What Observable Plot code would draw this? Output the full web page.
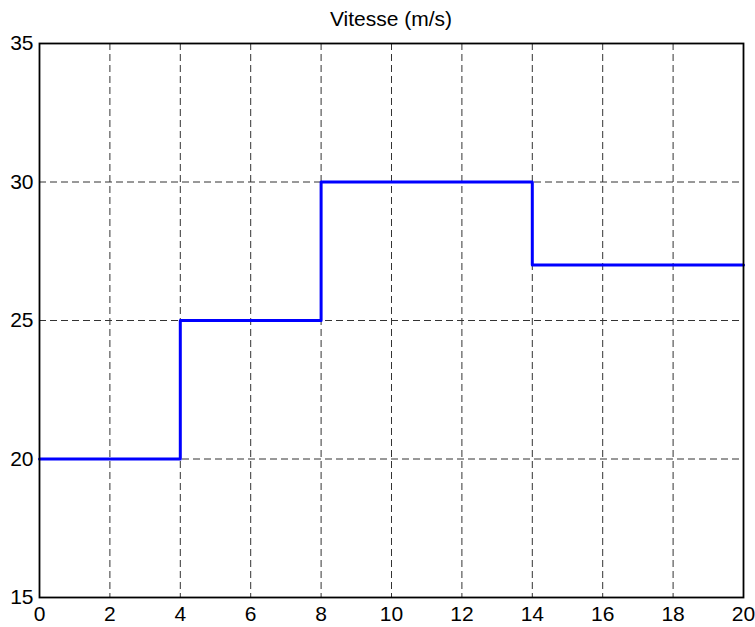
<!DOCTYPE html>
<html>
<head>
<meta charset="utf-8">
<script src="https://cdn.jsdelivr.net/npm/d3@7"></script>
<script src="https://cdn.jsdelivr.net/npm/@observablehq/plot@0.6"></script>
<style>
  body { margin: 0; background: #fff; font-family: "Liberation Sans", Arial, sans-serif; }
  #title { box-sizing: border-box; height: 30px; width: 755px; padding: 8px 12px 0 39px; text-align: center; font-size: 21px; line-height: 21px; color: #000; white-space: nowrap; }
  #chart svg { display: block; }
</style>
</head>
<body>
<div id="title">Vitesse (m/s)</div>
<div id="chart"></div>
<script>
// Speed profile: step changes at given times
const times = [0, 4, 8, 14, 20];
const speeds = [20, 25, 30, 27, 27];
const xTicks = [0, 2, 4, 6, 8, 10, 12, 14, 16, 18, 20];
const yTicks = [15, 20, 25, 30, 35];

const data = times.map((t, i) => ({t, v: speeds[i]}));

const chart = Plot.plot({
  width: 755,
  height: 597,
  marginLeft: 39,
  marginRight: 12,
  marginTop: 13,
  marginBottom: 30,
  style: {fontFamily: "'Liberation Sans', Arial, sans-serif", fontSize: "21px", color: "#000", background: "#fff"},
  x: {domain: [0, 20], ticks: xTicks, label: null},
  y: {domain: [15, 35], ticks: yTicks, label: null},
  marks: [
    Plot.gridX(xTicks.slice(1, -1), {stroke: "#333", strokeOpacity: 1, strokeWidth: 1, strokeDasharray: "7,4"}),
    Plot.gridY(yTicks.slice(1, -1), {stroke: "#333", strokeOpacity: 1, strokeWidth: 1, strokeDasharray: "7,4"}),
    Plot.lineY(data, {x: "t", y: "v", curve: "step-after", stroke: "#0000ff", strokeWidth: 3}),
    Plot.frame({stroke: "#000", strokeWidth: 1.8}),
    Plot.axisX({ticks: xTicks, tickSize: 0, tickPadding: 9, fontSize: 21, label: null}),
    Plot.axisY({ticks: yTicks, tickSize: 0, tickPadding: 6, fontSize: 21, label: null})
  ]
});
document.getElementById("chart").appendChild(chart);
</script>
</body>
</html>
